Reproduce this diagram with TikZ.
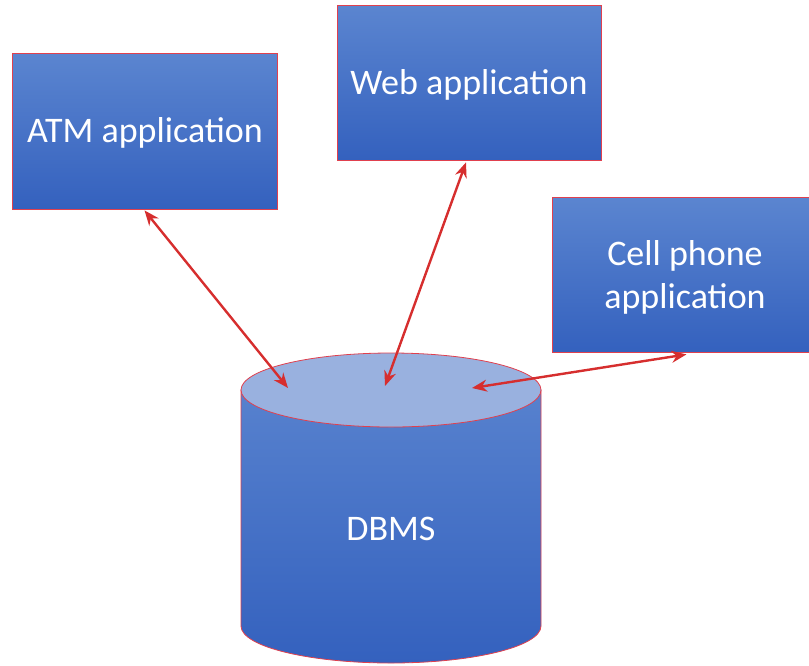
\documentclass[tikz,border=0pt]{standalone}
\usepackage{fontspec}
\setmainfont{Carlito}
\usetikzlibrary{arrows.meta}
\definecolor{boxtop}{HTML}{5B85D0}
\definecolor{boxbot}{HTML}{3461BE}
\definecolor{cyltop}{HTML}{99B1DF}
\definecolor{edgered}{HTML}{E0404E}
\definecolor{arrred}{HTML}{D62E2E}
\tikzset{
  appbox/.style={draw=edgered, line width=0.8pt, top color=boxtop, bottom color=boxbot,
    text=white, font=\fontsize{36}{43}\selectfont, align=center, inner sep=0pt},
  link/.style={draw=arrred, line width=2.4pt,
    {Stealth[length=15pt,width=12pt]}-{Stealth[length=15pt,width=12pt]}},
}
\begin{document}
\begin{tikzpicture}[x=1pt,y=-1pt]
\useasboundingbox (0,0) rectangle (809,665);
% boxes
\node[appbox, minimum width=265pt, minimum height=156pt] (atm) at (144.5,131) {};
\node[text=white, font=\fontsize{36}{43}\selectfont] (atmt) at (145,133) {ATM application};
\node[appbox, minimum width=264pt, minimum height=155pt] (web) at (469,82.5) {};
\node[text=white, font=\fontsize{36}{43}\selectfont] (webt) at (469,85) {Web application};
\node[appbox, minimum width=257pt, minimum height=155pt] (cell) at (680.5,274.5) {};
\node[text=white, font=\fontsize{36}{43}\selectfont, align=center] (cellt) at (685,277) {Cell phone\\application};
% cylinder
\path[draw=edgered, line width=0.8pt, top color=boxtop!90!boxbot, bottom color=boxbot]
  (241,390) -- (241,626) arc[start angle=180, end angle=360, x radius=150, y radius=-37] -- (541,390) -- cycle;
\path[draw=edgered, line width=0.8pt, fill=cyltop] (391,390) ellipse[x radius=150, y radius=37];
\node[text=white, font=\fontsize{36}{43}\selectfont] (dbms) at (391,529) {DBMS};
\coordinate (d1) at (288,388);
\coordinate (d2) at (385,386);
\coordinate (d3) at (472,388);
% connectors
\draw[link] ([xshift=0pt,yshift=-1pt]atm.south) -- (d1);
\draw[link] ([xshift=-3pt,yshift=-2pt]web.south) -- (d2);
\draw[link] ([xshift=6pt,yshift=-2pt]cell.south) -- (d3);
\end{tikzpicture}
\end{document}
